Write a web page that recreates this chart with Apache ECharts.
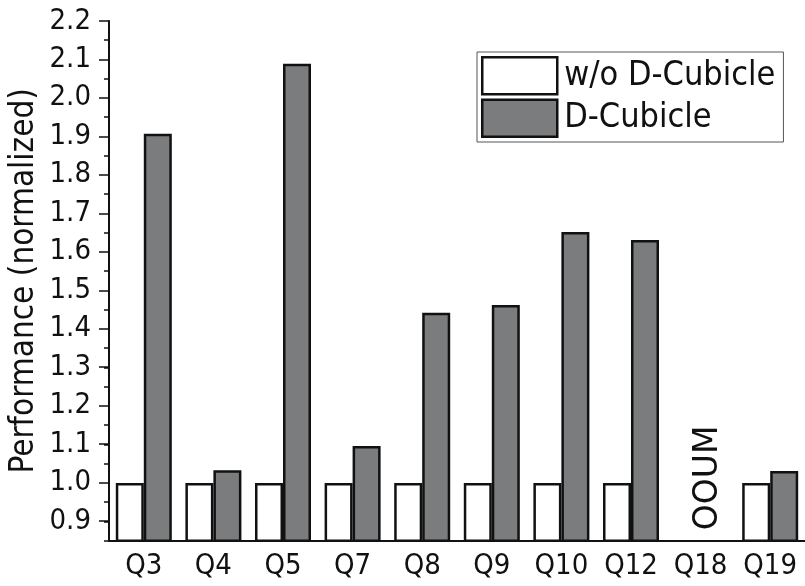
<!DOCTYPE html>
<html>
<head>
<meta charset="utf-8">
<script src="https://cdn.jsdelivr.net/npm/echarts@6/dist/echarts.min.js"></script>
<style>
  html, body { margin: 0; padding: 0; background: #fff; }
  #chart { width: 805px; height: 586px; }
</style>
</head>
<body>
<div id="chart"></div>
<script>
var categories = ['Q3', 'Q4', 'Q5', 'Q7', 'Q8', 'Q9', 'Q10', 'Q12', 'Q18', 'Q19'];
// Q18 ran out of memory: bars stay at the axis floor
var withoutCubicle = [1.0, 1.0, 1.0, 1.0, 1.0, 1.0, 1.0, 1.0, 0.85, 1.0];
var withCubicle = [1.907, 1.033, 2.089, 1.096, 1.442, 1.462, 1.652, 1.631, 0.85, 1.031];
var seriesNames = ['w/o D-Cubicle', 'D-Cubicle'];
var oomCategory = 'Q18';
var oomLabel = 'OOUM';

var font = 'DejaVu Sans Condensed';
var gridBox = { left: 108, top: 21, width: 700, height: 519.7 };

var chart = echarts.init(document.getElementById('chart'));
var option = {
  backgroundColor: '#fff',
  animation: false,
  textStyle: { fontFamily: font, color: '#111' },
  grid: [
    gridBox,
    // second grid only for the long major ticks + labels (0.9 .. 2.2)
    { left: 108, top: 21, width: 700, height: 500.1 }
  ],
  legend: {
    orient: 'vertical',
    left: 477,
    top: 52,
    padding: [4, 8, 4, 4],
    itemWidth: 75,
    itemHeight: 37,
    itemGap: 3,
    borderColor: '#555',
    borderWidth: 1,
    icon: 'rect',
    textStyle: { fontFamily: font, fontSize: 34, color: '#111', padding: [0, 0, 0, 2] },
    data: [
      { name: seriesNames[0], itemStyle: { color: '#fff', borderColor: '#111', borderWidth: 2.5 } },
      { name: seriesNames[1], itemStyle: { color: '#7b7c7e', borderColor: '#111', borderWidth: 2.5 } }
    ]
  },
  xAxis: [
    {
      type: 'category',
      gridIndex: 0,
      data: categories,
      axisLine: { lineStyle: { color: '#111', width: 2 } },
      axisTick: { alignWithLabel: true, length: 8, lineStyle: { color: '#111', width: 1.5 } },
      axisLabel: { interval: 0, fontFamily: font, fontSize: 29, color: '#111', margin: 11 }
    },
    { type: 'value', gridIndex: 1, show: false }
  ],
  yAxis: [
    {
      type: 'value',
      gridIndex: 0,
      min: 0.85,
      max: 2.2,
      interval: 0.05,
      name: 'Performance (normalized)',
      nameLocation: 'middle',
      nameGap: 68,
      nameTextStyle: { fontFamily: font, fontSize: 33, color: '#111' },
      axisLine: { show: true, lineStyle: { color: '#111', width: 2 } },
      axisTick: { show: true, length: 5, lineStyle: { color: '#111', width: 1.5 } },
      axisLabel: { show: false },
      splitLine: { show: false }
    },
    {
      type: 'value',
      gridIndex: 1,
      min: 0.9,
      max: 2.2,
      interval: 0.1,
      axisLine: { show: false },
      axisTick: { show: true, length: 9, lineStyle: { color: '#111', width: 1.5 } },
      axisLabel: {
        fontFamily: font, fontSize: 29, color: '#111', margin: 17,
        formatter: function (v) { return v.toFixed(1); }
      },
      splitLine: { show: false }
    }
  ],
  series: [
    {
      name: seriesNames[0],
      type: 'bar',
      xAxisIndex: 0,
      yAxisIndex: 0,
      barWidth: 28,
      barGap: '0%',
      data: withoutCubicle,
      itemStyle: { color: '#fff', borderColor: '#111', borderWidth: 2.5 }
    },
    {
      name: seriesNames[1],
      type: 'bar',
      xAxisIndex: 0,
      yAxisIndex: 0,
      barWidth: 28,
      barGap: '0%',
      data: withCubicle,
      itemStyle: { color: '#7b7c7e', borderColor: '#111', borderWidth: 2.5 },
      markPoint: {
        symbol: 'rect',
        symbolSize: 1,
        itemStyle: { color: 'rgba(0,0,0,0)' },
        label: {
          show: true,
          formatter: oomLabel,
          position: [-6, -10],
          rotate: 90,
          align: 'left',
          verticalAlign: 'middle',
          fontFamily: 'DejaVu Sans',
          fontSize: 33,
          color: '#111'
        },
        data: [{ coord: [oomCategory, 0.85] }]
      }
    }
  ]
};
chart.setOption(option);
</script>
</body>
</html>
